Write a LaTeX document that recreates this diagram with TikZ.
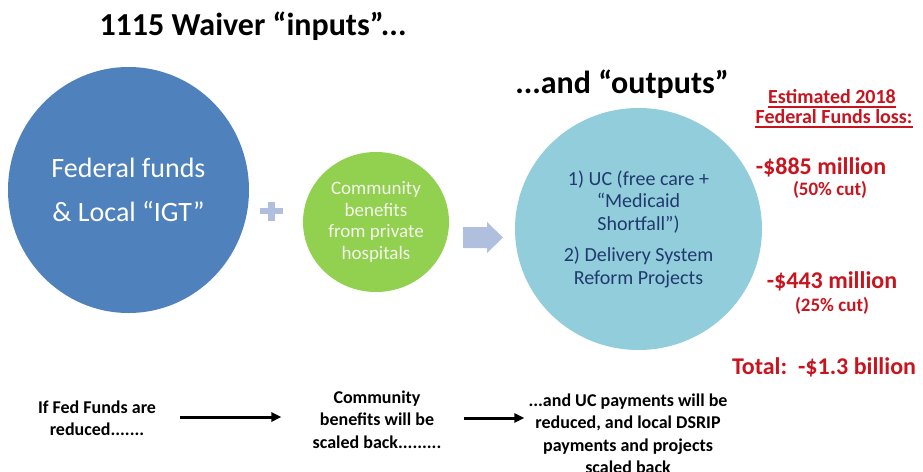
\documentclass[tikz,border=0pt]{standalone}
\usepackage{fontspec}
\setmainfont{Carlito}
\usetikzlibrary{arrows.meta,shapes.geometric}
\definecolor{cblue}{HTML}{4F81BD}
\definecolor{cgreen}{HTML}{92D050}
\definecolor{caqua}{HTML}{92CDDC}
\definecolor{cnavy}{HTML}{203A6E}
\definecolor{cred}{HTML}{C8141E}
\definecolor{cpale}{HTML}{AFBFDD}
\definecolor{cgtext}{HTML}{F4F7EC}
\begin{document}
\begin{tikzpicture}[x=1pt,y=-1pt,
  bubble/.style={ellipse, inner sep=0pt, align=center},
  titletxt/.style={anchor=base, inner sep=0pt, font=\fontsize{32}{38}\selectfont\bfseries},
  redhead/.style={anchor=base, inner sep=0pt, text=cred, font=\fontsize{20}{24}\selectfont\bfseries},
  redval/.style={anchor=base, inner sep=0pt, text=cred, font=\fontsize{24}{28}\selectfont\bfseries},
  redsub/.style={anchor=base, inner sep=0pt, text=cred, font=\fontsize{19}{22}\selectfont\bfseries},
  bottomtxt/.style={align=center, inner sep=0pt, font=\fontsize{18}{22.5}\selectfont\bfseries},
  flowarrow/.style={line width=3pt, -{Triangle[length=10pt,width=9pt]}},
  uline/.style={cred, line width=1.5pt}]
\useasboundingbox (0,0) rectangle (923,471);

% titles
\node[titletxt] (t1) at (253,35) {1115 Waiver “inputs”...};
\node[titletxt] (t2) at (622,93) {...and “outputs”};

% circles
\node[bubble, fill=cblue, minimum width=241pt, minimum height=246pt, text=white,
      font=\fontsize{28}{44}\selectfont] (fed) at (128.5,190) {Federal funds\\\& Local “IGT”};
\node[bubble, fill=cgreen, minimum width=146pt, minimum height=140pt, text=cgtext,
      font=\fontsize{19}{21.7}\selectfont] (comm) at (376,222) {Community\\benefits\\from private\\hospitals};
\node[bubble, fill=caqua, minimum width=247pt, minimum height=242pt, text=cnavy,
      font=\fontsize{20}{22.5}\selectfont] (out) at (638.5,229)
      {1) UC (free care +\\“Medicaid\\Shortfall”)\\[9pt]2) Delivery System\\Reform Projects};

% plus sign
\fill[cpale] (260,207.7) rectangle (283,214.3);
\fill[cpale] (268.2,202) rectangle (274.8,220.5);

% block arrow
\fill[cpale] (463,227) -- (487,227) -- (487,222) -- (503,237.5) -- (487,253) -- (487,248) -- (463,248) -- cycle;

% red estimates
\node[redhead] (h1) at (832,103) {Estimated 2018};
\node[redhead] (h2) at (834,123) {Federal Funds loss:};
\draw[uline] ([yshift=-4pt]h1.base west) -- ([yshift=-4pt]h1.base east);
\draw[uline] ([yshift=-4pt]h2.base west) -- ([yshift=-4pt]h2.base east);
\node[redval] (v1) at (821,174) {-\$885 million};
\node[redsub] (s1) at (830,195) {(50\% cut)};
\node[redval] (v2) at (832,288) {-\$443 million};
\node[redsub] (s2) at (832,311) {(25\% cut)};
\node[redval] (tot) at (824,374) {Total:\ \ -\$1.3 billion};

% bottom flow
\node[bottomtxt] (b1) at (97,418) {If Fed Funds are\\reduced.......};
\node[bottomtxt] (b2) at (377,419.5) {Community\\benefits will be\\scaled back.........};
\node[bottomtxt] (b3) at (628,433.5) {...and UC payments will be\\reduced, and local DSRIP\\payments and projects\\scaled back};
\draw[flowarrow, shorten <=24pt, shorten >=31pt] (b1.east |- 0,417) -- (b2.west |- 0,417);
\draw[flowarrow, shorten <=22pt, shorten >=4pt] (b2.east |- 0,418) -- (b3.west |- 0,418);
\end{tikzpicture}
\end{document}
